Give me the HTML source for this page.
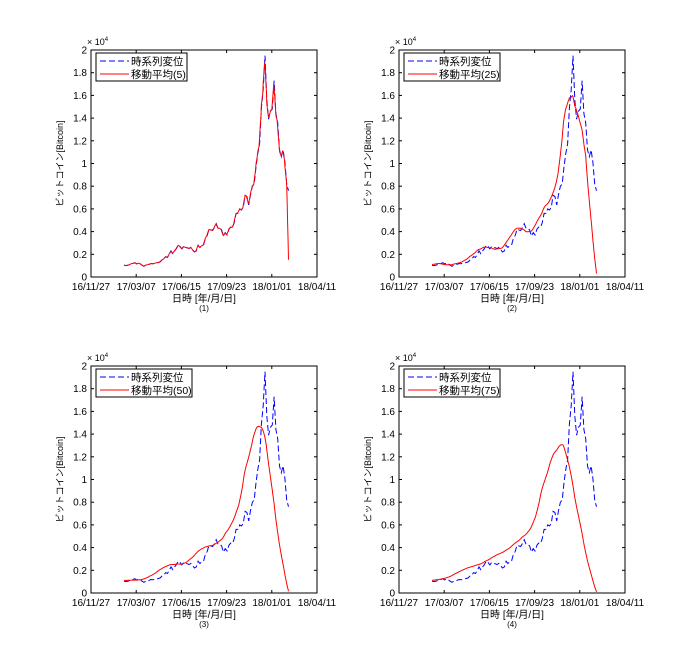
<!DOCTYPE html>
<html><head><meta charset="utf-8"><style>
body{margin:0;background:#fff;}
svg{display:block;font-family:"Liberation Sans","Noto Sans CJK JP",sans-serif;}
</style></head><body>
<svg id="chart" width="700" height="667" viewBox="0 0 700 667"></svg>
<script>
// Bitcoin price samples every 4 days starting 2017-02-08 (day 73 after 16/11/27)
const startDay = 73;
const stepDays = 4;
const prices = [1050,1000,1030,1080,1170,1190,1260,1150,1230,1170,1040,940,1040,1080,1120,1190,1170,1200,1250,1280,1330,1500,1580,1800,1720,1980,2300,2050,2300,2500,2800,2700,2480,2700,2600,2580,2500,2620,2400,2200,2300,2800,2600,2750,2800,3400,3650,4200,4150,4100,4350,4700,4300,4300,4150,3600,3900,3700,4200,4400,4350,4800,5600,5600,6000,5900,6150,7200,7100,6350,7300,8000,8200,9700,10900,11700,14900,16500,19500,15600,13900,14600,14800,17300,14400,13600,11200,10600,11200,10100,8200,7600];
const windows = [5,25,50,75];
const panelTitles = ["(1)","(2)","(3)","(4)"];
const xTickLabels = ["16/11/27","17/03/07","17/06/15","17/09/23","18/01/01","18/04/11"];
const xTickDays = [0,100,200,300,400,500];
const yTickValues = [0,0.2,0.4,0.6,0.8,1,1.2,1.4,1.6,1.8,2];

const svg = document.getElementById('chart');
const NS = 'http://www.w3.org/2000/svg';
function mk(tag, attrs, parent){const e=document.createElementNS(NS,tag);for(const k in attrs)e.setAttribute(k,attrs[k]);(parent||svg).appendChild(e);return e;}

const panels = [{l:91,t:50},{l:399,t:50},{l:91,t:366},{l:399,t:366}];
const W=226, H=227;

const daily=[];
for(let i=0;i<prices.length*stepDays-3;i++) daily.push(prices[Math.floor(i/stepDays)]);
function movAvg(n){const out=[];for(let i=0;i<daily.length;i++){let s=0;for(let j=i;j<i+n;j++) s+= j<daily.length?daily[j]:0; out.push(s/n);}return out;}

panels.forEach((p,pi)=>{
  const g=mk('g',{});
  
  
  const xs=d=>p.l+d/500*W;
  const ys=v=>p.t+H-v/20000*H;
  const bg=mk('rect',{x:p.l,y:p.t,width:W,height:H,fill:'#fff',stroke:'#000','stroke-width':1},g);
  
  
  xTickDays.forEach((d,i)=>{
    const x=xs(d);
    mk('line',{x1:x,y1:p.t+H,x2:x,y2:p.t+H-3,stroke:'#000'},g);
    mk('line',{x1:x,y1:p.t,x2:x,y2:p.t+3,stroke:'#000'},g);
    const t=mk('text',{x:x,y:p.t+H+13,'font-size':10,'text-anchor':'middle'},g);
    t.textContent=xTickLabels[i];
    
    
  });
  yTickValues.forEach(v=>{
    const y=ys(v*10000);
    mk('line',{x1:p.l,y1:y,x2:p.l+3,y2:y,stroke:'#000'},g);
    mk('line',{x1:p.l+W,y1:y,x2:p.l+W-3,y2:y,stroke:'#000'},g);
    const t=mk('text',{x:p.l-4,y:y+3.5,'font-size':10,'text-anchor':'end'},g);
    t.textContent=String(v);
    
    
  });
  const ex=mk('text',{x:p.l-4,y:p.t-5,'font-size':9},g);
  ex.innerHTML='× 10<tspan font-size="6" dy="-4">4</tspan>';
  
  
  const raw=prices.map((v,i)=>xs(startDay+i*stepDays).toFixed(1)+','+ys(v).toFixed(1)).join(' ');
  const ma=movAvg(windows[pi]);
  const maPts=ma.map((v,i)=>xs(startDay+i).toFixed(1)+','+ys(v).toFixed(1)).join(' ');
  const l1=mk('polyline',{points:raw,fill:'none',stroke:'#0000ff','stroke-width':1,'stroke-dasharray':'6,3'},g);
  
  
  const l2=mk('polyline',{points:maPts,fill:'none',stroke:'#ff0000','stroke-width':1},g);
  
  
  const lg=mk('g',{},g);
  
  
  mk('rect',{x:p.l+5,y:p.t+3,width:pi===0?91:96,height:28,fill:'#fff',stroke:'#000'},lg);
  mk('line',{x1:p.l+9,y1:p.t+11,x2:p.l+38,y2:p.t+11,stroke:'#0000ff','stroke-dasharray':'6,3'},lg);
  mk('line',{x1:p.l+9,y1:p.t+24,x2:p.l+38,y2:p.t+24,stroke:'#ff0000'},lg);
  const a=mk('text',{x:p.l+40,y:p.t+15,'font-size':10.5},lg);a.textContent='時系列変位';
  
  
  const b=mk('text',{x:p.l+40,y:p.t+28,'font-size':10.5},lg);b.textContent='移動平均('+windows[pi]+')';
  
  
  const xl=mk('text',{x:p.l+W/2,y:p.t+H+25,'font-size':10,'text-anchor':'middle'},g);xl.textContent='日時 [年/月/日]';
  
  
  const pt=mk('text',{x:p.l+W/2,y:p.t+H+34,'font-size':8,'text-anchor':'middle'},g);pt.textContent=panelTitles[pi];
  
  
  const yl=mk('text',{x:0,y:0,'font-size':9,'text-anchor':'middle',transform:'translate('+(p.l-28)+','+(p.t+H/2)+') rotate(-90)'},g);yl.textContent='ビットコイン[Bitcoin]';
  
  
});
</script>
</body></html>
